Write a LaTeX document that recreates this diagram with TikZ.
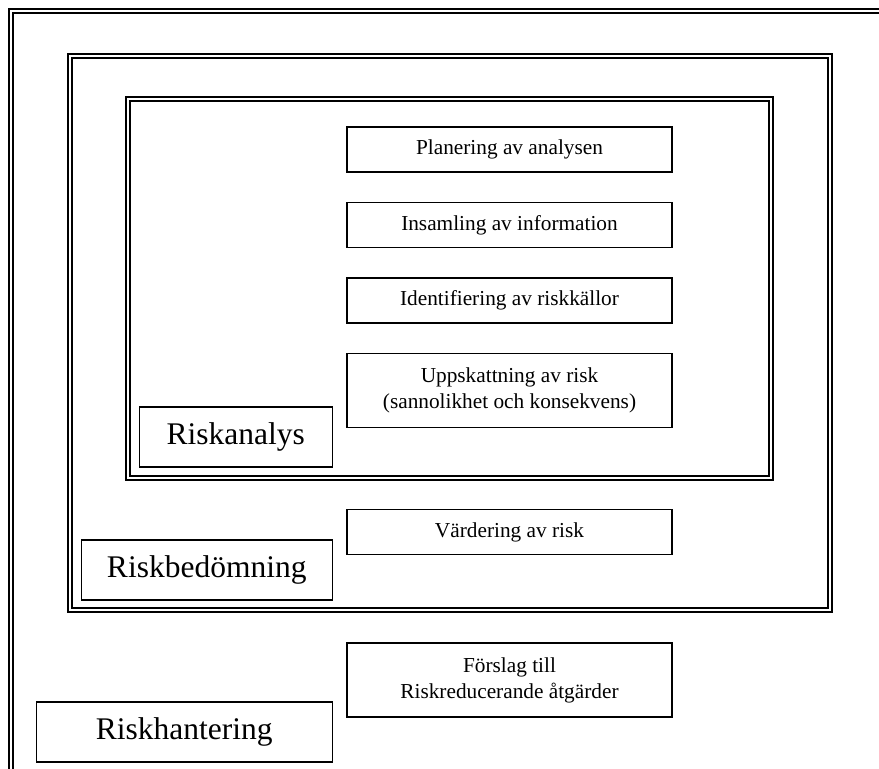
\documentclass[tikz,border=0pt]{standalone}
\usepackage{fontspec}
\setmainfont{Liberation Serif}
\usetikzlibrary{positioning}

\begin{document}
\begin{tikzpicture}[x=1pt, y=-1pt,
        frame/.style={draw, line width=2pt, double, double distance=2pt},
        block/.style={rectangle, draw, line width=1.5pt, minimum width=325pt, minimum height=45pt, align=center, inner sep=0pt, font=\fontsize{21.3}{26}\selectfont},
        tallblock/.style={block, minimum height=74pt},
        titlebox/.style={rectangle, draw, line width=1.5pt, minimum height=60pt, inner sep=0pt, anchor=north east, font=\fontsize{31.5}{36}\selectfont},
        node distance=29pt
    ]
        \path[use as bounding box, clip] (0,0) rectangle (879,769);

        % Frames
        \draw[frame] (11,11) rectangle (900,790);
        \draw[frame] (70,56) rectangle (830,610);
        \draw[frame] (128,99) rectangle (771,478);

        % Blocks
        \node[block] (plan) at (509.5,149.5) {Planering av analysen};
        \node[block, below=of plan] (insamling) {Insamling av information};
        \node[block, below=of insamling] (ident) {Identifiering av riskk\"allor};
        \node[tallblock, below=of ident] (uppsk) {Uppskattning av risk\\(sannolikhet och konsekvens)};
        \node[block] (vardering) at (509.5,532) {V\"ardering av risk};
        \node[tallblock] (forslag) at (509.5,680) {F\"orslag till\\Riskreducerande \aa tg\"arder};

        % Titles
        \node[titlebox, minimum width=193pt] (riskanalys) at (333,406) {Riskanalys};
        \node[titlebox, minimum width=251pt] (riskbed) at (333,539) {Riskbed\"omning};
        \node[titlebox, minimum width=296pt] (riskhant) at (333,701) {Riskhantering};

    \end{tikzpicture}
\end{document}
